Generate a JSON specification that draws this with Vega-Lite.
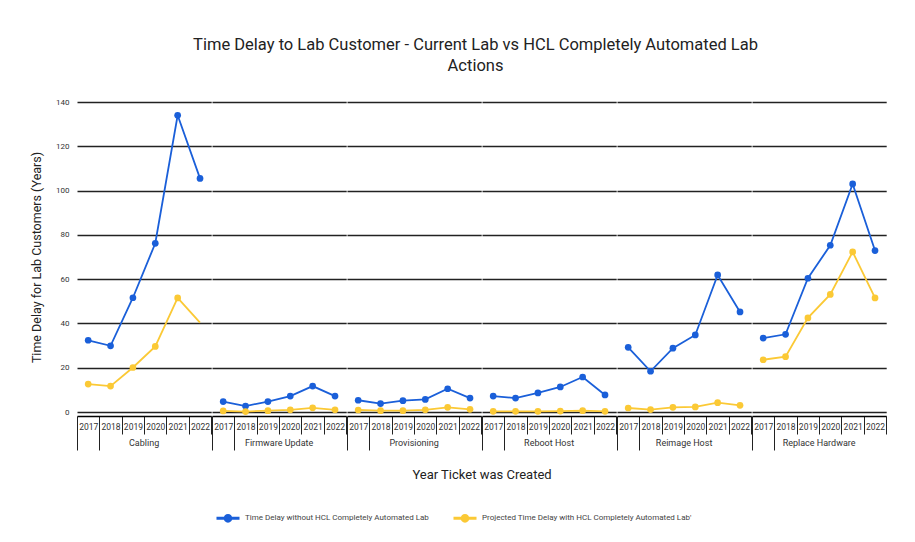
{
  "$schema": "https://vega.github.io/schema/vega-lite/v6.json",
  "padding": {"left": 30, "top": 36, "right": 26, "bottom": 10},
  "title": {
    "text": ["Time Delay to Lab Customer - Current Lab vs HCL Completely Automated Lab", "Actions"],
    "font": "Roboto", "fontSize": 16.5, "fontWeight": "normal", "color": "#222",
    "anchor": "middle", "lineHeight": 21, "offset": 24, "dx": 17
  },
  "data": {"values": [
    {"cat": "Cabling", "year": 2017, "series": "Time Delay without HCL Completely Automated Lab", "value": 32.4},
    {"cat": "Cabling", "year": 2018, "series": "Time Delay without HCL Completely Automated Lab", "value": 29.9},
    {"cat": "Cabling", "year": 2019, "series": "Time Delay without HCL Completely Automated Lab", "value": 51.6},
    {"cat": "Cabling", "year": 2020, "series": "Time Delay without HCL Completely Automated Lab", "value": 76.2},
    {"cat": "Cabling", "year": 2021, "series": "Time Delay without HCL Completely Automated Lab", "value": 134},
    {"cat": "Cabling", "year": 2022, "series": "Time Delay without HCL Completely Automated Lab", "value": 105.5},
    {"cat": "Firmware Update", "year": 2017, "series": "Time Delay without HCL Completely Automated Lab", "value": 4.7},
    {"cat": "Firmware Update", "year": 2018, "series": "Time Delay without HCL Completely Automated Lab", "value": 2.7},
    {"cat": "Firmware Update", "year": 2019, "series": "Time Delay without HCL Completely Automated Lab", "value": 4.7},
    {"cat": "Firmware Update", "year": 2020, "series": "Time Delay without HCL Completely Automated Lab", "value": 7.2},
    {"cat": "Firmware Update", "year": 2021, "series": "Time Delay without HCL Completely Automated Lab", "value": 11.7},
    {"cat": "Firmware Update", "year": 2022, "series": "Time Delay without HCL Completely Automated Lab", "value": 7.2},
    {"cat": "Provisioning", "year": 2017, "series": "Time Delay without HCL Completely Automated Lab", "value": 5.3},
    {"cat": "Provisioning", "year": 2018, "series": "Time Delay without HCL Completely Automated Lab", "value": 3.8},
    {"cat": "Provisioning", "year": 2019, "series": "Time Delay without HCL Completely Automated Lab", "value": 5.1},
    {"cat": "Provisioning", "year": 2020, "series": "Time Delay without HCL Completely Automated Lab", "value": 5.7},
    {"cat": "Provisioning", "year": 2021, "series": "Time Delay without HCL Completely Automated Lab", "value": 10.5},
    {"cat": "Provisioning", "year": 2022, "series": "Time Delay without HCL Completely Automated Lab", "value": 6.3},
    {"cat": "Reboot Host", "year": 2017, "series": "Time Delay without HCL Completely Automated Lab", "value": 7.2},
    {"cat": "Reboot Host", "year": 2018, "series": "Time Delay without HCL Completely Automated Lab", "value": 6.3},
    {"cat": "Reboot Host", "year": 2019, "series": "Time Delay without HCL Completely Automated Lab", "value": 8.6},
    {"cat": "Reboot Host", "year": 2020, "series": "Time Delay without HCL Completely Automated Lab", "value": 11.3},
    {"cat": "Reboot Host", "year": 2021, "series": "Time Delay without HCL Completely Automated Lab", "value": 15.8},
    {"cat": "Reboot Host", "year": 2022, "series": "Time Delay without HCL Completely Automated Lab", "value": 7.7},
    {"cat": "Reimage Host", "year": 2017, "series": "Time Delay without HCL Completely Automated Lab", "value": 29.2},
    {"cat": "Reimage Host", "year": 2018, "series": "Time Delay without HCL Completely Automated Lab", "value": 18.4},
    {"cat": "Reimage Host", "year": 2019, "series": "Time Delay without HCL Completely Automated Lab", "value": 28.8},
    {"cat": "Reimage Host", "year": 2020, "series": "Time Delay without HCL Completely Automated Lab", "value": 34.8},
    {"cat": "Reimage Host", "year": 2021, "series": "Time Delay without HCL Completely Automated Lab", "value": 61.9},
    {"cat": "Reimage Host", "year": 2022, "series": "Time Delay without HCL Completely Automated Lab", "value": 45.2},
    {"cat": "Replace Hardware", "year": 2017, "series": "Time Delay without HCL Completely Automated Lab", "value": 33.4},
    {"cat": "Replace Hardware", "year": 2018, "series": "Time Delay without HCL Completely Automated Lab", "value": 35.1},
    {"cat": "Replace Hardware", "year": 2019, "series": "Time Delay without HCL Completely Automated Lab", "value": 60.4},
    {"cat": "Replace Hardware", "year": 2020, "series": "Time Delay without HCL Completely Automated Lab", "value": 75.3},
    {"cat": "Replace Hardware", "year": 2021, "series": "Time Delay without HCL Completely Automated Lab", "value": 103},
    {"cat": "Replace Hardware", "year": 2022, "series": "Time Delay without HCL Completely Automated Lab", "value": 72.9},
    {"cat": "Cabling", "year": 2017, "series": "Projected Time Delay with HCL Completely Automated Lab'", "value": 12.6},
    {"cat": "Cabling", "year": 2018, "series": "Projected Time Delay with HCL Completely Automated Lab'", "value": 11.7},
    {"cat": "Cabling", "year": 2019, "series": "Projected Time Delay with HCL Completely Automated Lab'", "value": 20.1},
    {"cat": "Cabling", "year": 2020, "series": "Projected Time Delay with HCL Completely Automated Lab'", "value": 29.6},
    {"cat": "Cabling", "year": 2021, "series": "Projected Time Delay with HCL Completely Automated Lab'", "value": 51.5},
    {"cat": "Cabling", "year": 2022, "series": "Projected Time Delay with HCL Completely Automated Lab'", "value": 40.4},
    {"cat": "Firmware Update", "year": 2017, "series": "Projected Time Delay with HCL Completely Automated Lab'", "value": 0.5},
    {"cat": "Firmware Update", "year": 2018, "series": "Projected Time Delay with HCL Completely Automated Lab'", "value": 0.2},
    {"cat": "Firmware Update", "year": 2019, "series": "Projected Time Delay with HCL Completely Automated Lab'", "value": 0.6},
    {"cat": "Firmware Update", "year": 2020, "series": "Projected Time Delay with HCL Completely Automated Lab'", "value": 1.0},
    {"cat": "Firmware Update", "year": 2021, "series": "Projected Time Delay with HCL Completely Automated Lab'", "value": 1.9},
    {"cat": "Firmware Update", "year": 2022, "series": "Projected Time Delay with HCL Completely Automated Lab'", "value": 1.0},
    {"cat": "Provisioning", "year": 2017, "series": "Projected Time Delay with HCL Completely Automated Lab'", "value": 0.9},
    {"cat": "Provisioning", "year": 2018, "series": "Projected Time Delay with HCL Completely Automated Lab'", "value": 0.6},
    {"cat": "Provisioning", "year": 2019, "series": "Projected Time Delay with HCL Completely Automated Lab'", "value": 0.6},
    {"cat": "Provisioning", "year": 2020, "series": "Projected Time Delay with HCL Completely Automated Lab'", "value": 1.0},
    {"cat": "Provisioning", "year": 2021, "series": "Projected Time Delay with HCL Completely Automated Lab'", "value": 2.1},
    {"cat": "Provisioning", "year": 2022, "series": "Projected Time Delay with HCL Completely Automated Lab'", "value": 1.2},
    {"cat": "Reboot Host", "year": 2017, "series": "Projected Time Delay with HCL Completely Automated Lab'", "value": 0.3},
    {"cat": "Reboot Host", "year": 2018, "series": "Projected Time Delay with HCL Completely Automated Lab'", "value": 0.3},
    {"cat": "Reboot Host", "year": 2019, "series": "Projected Time Delay with HCL Completely Automated Lab'", "value": 0.3},
    {"cat": "Reboot Host", "year": 2020, "series": "Projected Time Delay with HCL Completely Automated Lab'", "value": 0.4},
    {"cat": "Reboot Host", "year": 2021, "series": "Projected Time Delay with HCL Completely Automated Lab'", "value": 0.6},
    {"cat": "Reboot Host", "year": 2022, "series": "Projected Time Delay with HCL Completely Automated Lab'", "value": 0.3},
    {"cat": "Reimage Host", "year": 2017, "series": "Projected Time Delay with HCL Completely Automated Lab'", "value": 1.8},
    {"cat": "Reimage Host", "year": 2018, "series": "Projected Time Delay with HCL Completely Automated Lab'", "value": 1.1},
    {"cat": "Reimage Host", "year": 2019, "series": "Projected Time Delay with HCL Completely Automated Lab'", "value": 2.1},
    {"cat": "Reimage Host", "year": 2020, "series": "Projected Time Delay with HCL Completely Automated Lab'", "value": 2.3},
    {"cat": "Reimage Host", "year": 2021, "series": "Projected Time Delay with HCL Completely Automated Lab'", "value": 4.2},
    {"cat": "Reimage Host", "year": 2022, "series": "Projected Time Delay with HCL Completely Automated Lab'", "value": 3.0},
    {"cat": "Replace Hardware", "year": 2017, "series": "Projected Time Delay with HCL Completely Automated Lab'", "value": 23.6},
    {"cat": "Replace Hardware", "year": 2018, "series": "Projected Time Delay with HCL Completely Automated Lab'", "value": 25},
    {"cat": "Replace Hardware", "year": 2019, "series": "Projected Time Delay with HCL Completely Automated Lab'", "value": 42.5},
    {"cat": "Replace Hardware", "year": 2020, "series": "Projected Time Delay with HCL Completely Automated Lab'", "value": 53.1},
    {"cat": "Replace Hardware", "year": 2021, "series": "Projected Time Delay with HCL Completely Automated Lab'", "value": 72.3},
    {"cat": "Replace Hardware", "year": 2022, "series": "Projected Time Delay with HCL Completely Automated Lab'", "value": 51.5}
  ]},
  "facet": {
    "column": {
      "field": "cat", "type": "nominal",
      "title": "Year Ticket was Created",
      "header": {
        "labelOrient": "bottom", "titleOrient": "bottom",
        "labelFont": "Roboto", "labelFontSize": 9, "labelColor": "#333", "labelPadding": -12,
        "titleFont": "Roboto", "titleFontSize": 13, "titleFontWeight": "normal", "titleColor": "#222", "titlePadding": 8
      }
    }
  },
  "spacing": 0,
  "spec": {
    "width": 134.2,
    "height": 310,
    "encoding": {
      "x": {
        "field": "year", "type": "ordinal",
        "scale": {"type": "band", "paddingInner": 0, "paddingOuter": 0},
        "axis": {
          "title": null, "labelAngle": 0, "labelFont": "Roboto", "labelFontSize": 8.5, "labelColor": "#333",
          "domainColor": "#000", "domainWidth": 1.5, "tickColor": "#222", "tickWidth": 1,
          "tickBand": "extent",
          "tickSize": {"condition": {"test": "datum.value == 2017 || datum.value == null", "value": 34}, "value": 18},
          "labelPadding": {"condition": {"test": "datum.value == 2017", "value": -28}, "value": -12},
          "grid": false
        }
      },
      "y": {
        "field": "value", "type": "quantitative",
        "scale": {"domain": [0, 140]},
        "axis": {
          "title": "Time Delay for Lab Customers (Years)", "values": [0, 20, 40, 60, 80, 100, 120, 140],
          "titleFont": "Roboto", "titleFontSize": 12.5, "titleFontWeight": "normal", "titleColor": "#222", "titlePadding": 12,
          "labelFont": "Roboto", "labelFontSize": 8, "labelColor": "#333", "labelPadding": 8,
          "domain": false, "ticks": false, "grid": true, "gridColor": "#222", "gridWidth": 1.3
        }
      },
      "color": {
        "field": "series", "type": "nominal",
        "scale": {
          "domain": ["Time Delay without HCL Completely Automated Lab", "Projected Time Delay with HCL Completely Automated Lab'"],
          "range": ["#1a5fd9", "#fbc935"]
        },
        "legend": {
          "title": null, "orient": "none", "direction": "horizontal", "legendX": 139, "legendY": 404,
          "labelFont": "Roboto", "labelFontSize": 8, "labelColor": "#444", "labelLimit": 400, "labelOffset": 5,
          "symbolType": "M-1,-0.13L1,-0.13L1,0.13L-1,0.13Z M0.38,0A0.38,0.38,0,1,1,-0.38,0A0.38,0.38,0,1,1,0.38,0Z",
          "symbolSize": 530, "symbolStrokeWidth": 0, "columnPadding": 24
        }
      }
    },
    "layer": [
      {"mark": {"type": "line", "strokeWidth": 1.8}},
      {
        "transform": [{"filter": "!(datum.cat == 'Cabling' && datum.year == 2022 && datum.value < 50)"}],
        "mark": {"type": "point", "filled": true, "size": 45, "opacity": 1}
      }
    ]
  },
  "config": {"view": {"stroke": null}, "font": "Roboto"}
}
